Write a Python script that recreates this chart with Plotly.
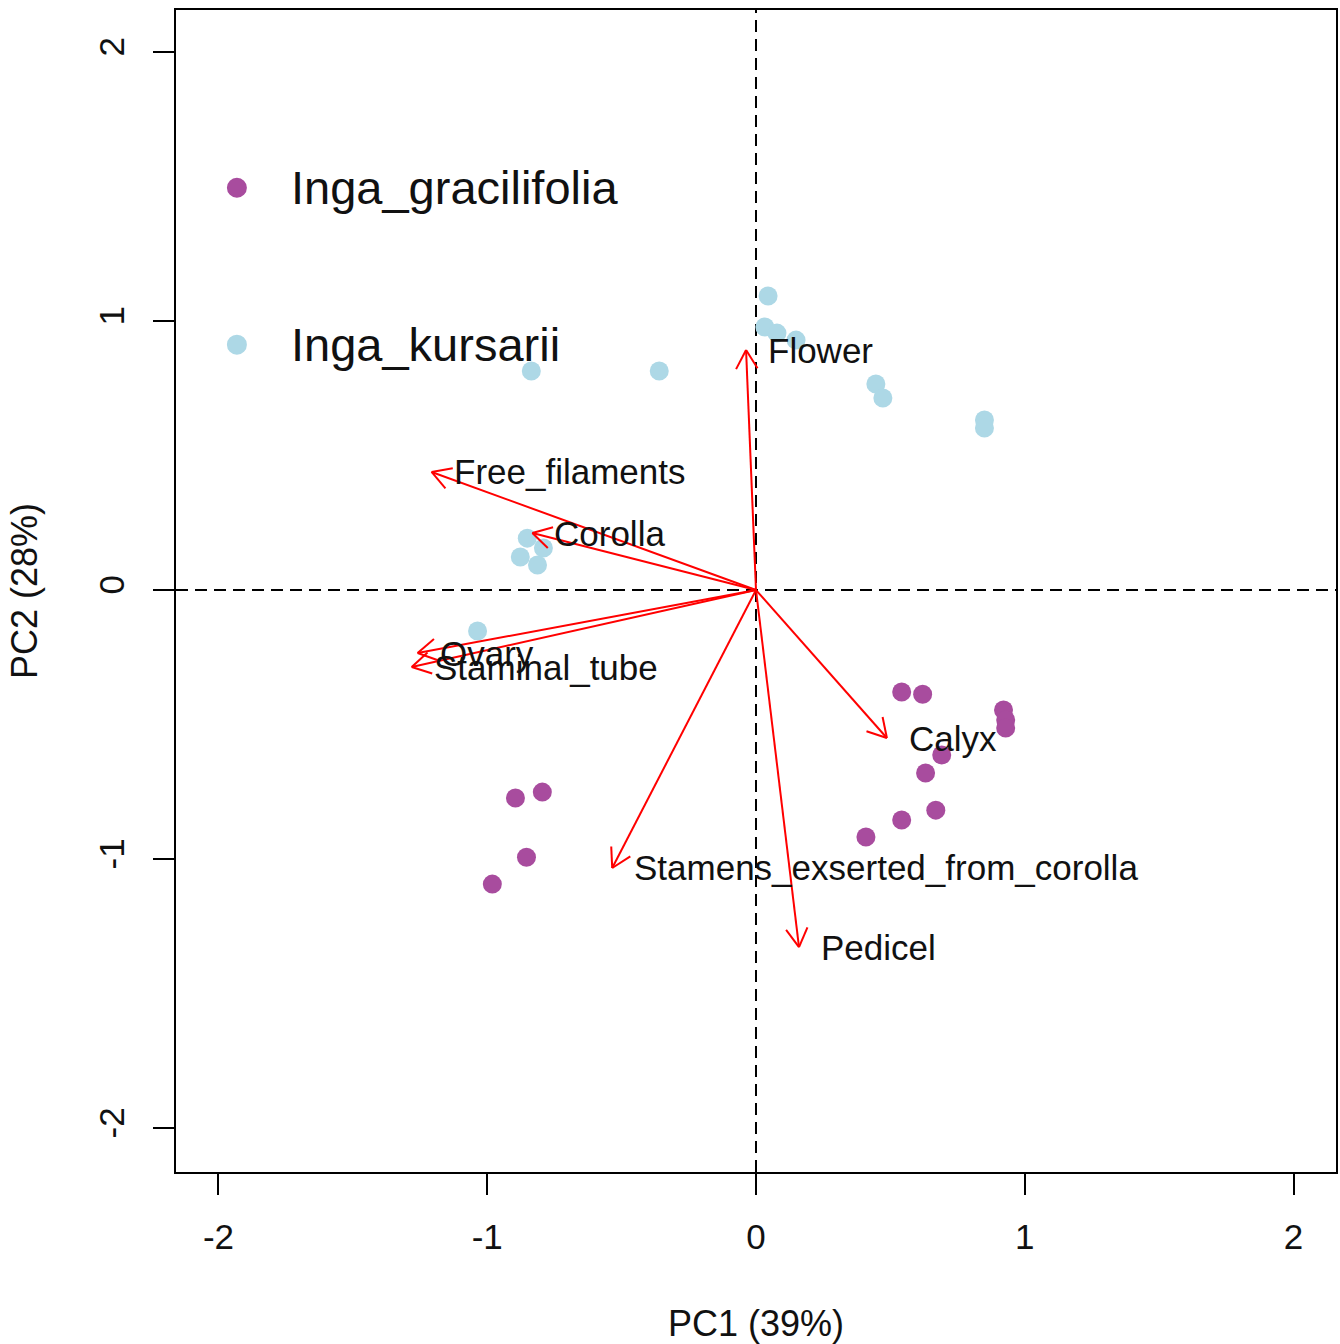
import numpy as np
import plotly.graph_objects as go

# ---- data ----
kursarii_pc1 = [0.045, 0.033, 0.078, 0.149, -0.836, -0.360, 0.446, 0.472, 0.850, 0.850,
                -0.851, -0.791, -0.877, -0.813, -1.036]
kursarii_pc2 = [1.093, 0.978, 0.955, 0.929, 0.814, 0.814, 0.766, 0.714, 0.632, 0.602,
                0.193, 0.156, 0.123, 0.093, -0.152]

gracilifolia_pc1 = [0.542, 0.620, 0.921, 0.929, 0.929, 0.691, 0.631, 0.669, 0.542, 0.409,
                    -0.895, -0.795, -0.854, -0.981]
gracilifolia_pc2 = [-0.379, -0.387, -0.446, -0.483, -0.513, -0.613, -0.680, -0.818, -0.855, -0.918,
                    -0.773, -0.751, -0.993, -1.093]

variables = ["Flower", "Free_filaments", "Corolla", "Ovary", "Staminal_tube",
             "Calyx", "Stamens_exserted_from_corolla", "Pedicel"]
loading_pc1 = [-0.037, -1.207, -0.832, -1.259, -1.281, 0.487, -0.535, 0.160]
loading_pc2 = [0.892, 0.439, 0.212, -0.234, -0.286, -0.550, -1.033, -1.327]

species = ["Inga_gracilifolia", "Inga_kursarii"]
species_colors = ["#A84C9E", "#ADD8E6"]

x_ticks = [-2, -1, 0, 1, 2]
y_ticks = [-2, -1, 0, 1, 2]

FONT = "Liberation Sans, Arial, sans-serif"

fig = go.Figure()

# points
fig.add_trace(go.Scatter(x=kursarii_pc1, y=kursarii_pc2, mode="markers",
                         marker=dict(color=species_colors[1], size=19, line=dict(width=0)),
                         name=species[1], showlegend=False))
fig.add_trace(go.Scatter(x=gracilifolia_pc1, y=gracilifolia_pc2, mode="markers",
                         marker=dict(color=species_colors[0], size=19, line=dict(width=0)),
                         name=species[0], showlegend=False))

# loading arrows with open V heads (R arrows style)
head_len = 0.08
theta = np.deg2rad(30)
ax_, ay_ = [], []
for px, py in zip(loading_pc1, loading_pc2):
    ax_ += [0, px, None]
    ay_ += [0, py, None]
    d = np.array([px, py]) / np.hypot(px, py)
    back = -d
    for s in (1, -1):
        c, sn = np.cos(s * theta), np.sin(s * theta)
        v = np.array([c * back[0] - sn * back[1], sn * back[0] + c * back[1]]) * head_len
        ax_ += [px + v[0], px, None]
        ay_ += [py + v[1], py, None]
fig.add_trace(go.Scatter(x=ax_, y=ay_, mode="lines", line=dict(color="#FF0000", width=2),
                         showlegend=False, hoverinfo="skip"))

annotations = []
for name, px, py in zip(variables, loading_pc1, loading_pc2):
    annotations.append(dict(x=px, y=py, xref="x", yref="y", text=name, showarrow=False,
                            xanchor="left", yanchor="middle", xshift=20,
                            font=dict(family=FONT, size=35, color="#111111")))

# legend (R style, no box)
legend_rows = [0.847, 0.712]
for sp, col, yy in zip(species, species_colors, legend_rows):
    annotations.append(dict(x=0.097, y=yy, xref="paper", yref="paper", text=sp, showarrow=False,
                            xanchor="left", yanchor="middle", yshift=0,
                            font=dict(family=FONT, size=47, color="#111111")))

shapes = []
for col, yy in zip(species_colors, legend_rows):
    shapes.append(dict(type="circle", xref="paper", yref="paper", xsizemode="pixel", ysizemode="pixel",
                       xanchor=0.0525, yanchor=yy, x0=-10, x1=10, y0=-10, y1=10,
                       fillcolor=col, line=dict(width=0)))

# dashed reference lines
shapes.append(dict(type="line", xref="x", yref="paper", x0=0, x1=0, y0=0, y1=1,
                   line=dict(color="black", width=2, dash="12px,7px"), layer="below"))
shapes.append(dict(type="line", xref="paper", yref="y", x0=0, x1=1, y0=0, y1=0,
                   line=dict(color="black", width=2, dash="12px,7px"), layer="below"))

fig.update_layout(
    width=1340, height=1344,
    margin=dict(l=176, r=2, t=10, b=172),
    paper_bgcolor="white", plot_bgcolor="white",
    font=dict(family=FONT, size=35, color="#111111"),
    showlegend=False,
    annotations=annotations,
    shapes=shapes,
    xaxis=dict(range=[-2.158, 2.158], tickvals=x_ticks, ticktext=[str(v) for v in x_ticks],
               ticks="outside", ticklen=21, tickwidth=2, tickcolor="black",
               showline=True, linewidth=2, linecolor="black", mirror=True,
               showgrid=False, zeroline=False, ticklabelstandoff=12,
               tickfont=dict(family=FONT, size=35, color="#111111"),
               title=dict(text="PC1 (39%)", standoff=57,
                          font=dict(family=FONT, size=36, color="#111111"))),
    yaxis=dict(range=[-2.163, 2.156], tickvals=y_ticks, ticktext=[str(v) for v in y_ticks],
               ticks="outside", ticklen=21, tickwidth=2, tickcolor="black", tickangle=-90,
               showline=True, linewidth=2, linecolor="black", mirror=True,
               showgrid=False, zeroline=False, ticklabelstandoff=15,
               tickfont=dict(family=FONT, size=35, color="#111111"),
               title=dict(text="PC2 (28%)", standoff=43,
                          font=dict(family=FONT, size=36, color="#111111"))),
)

fig.write_html("out.html", config={"displayModeBar": False},
               post_script="document.body.style.margin='0px';document.body.style.padding='0px';")
